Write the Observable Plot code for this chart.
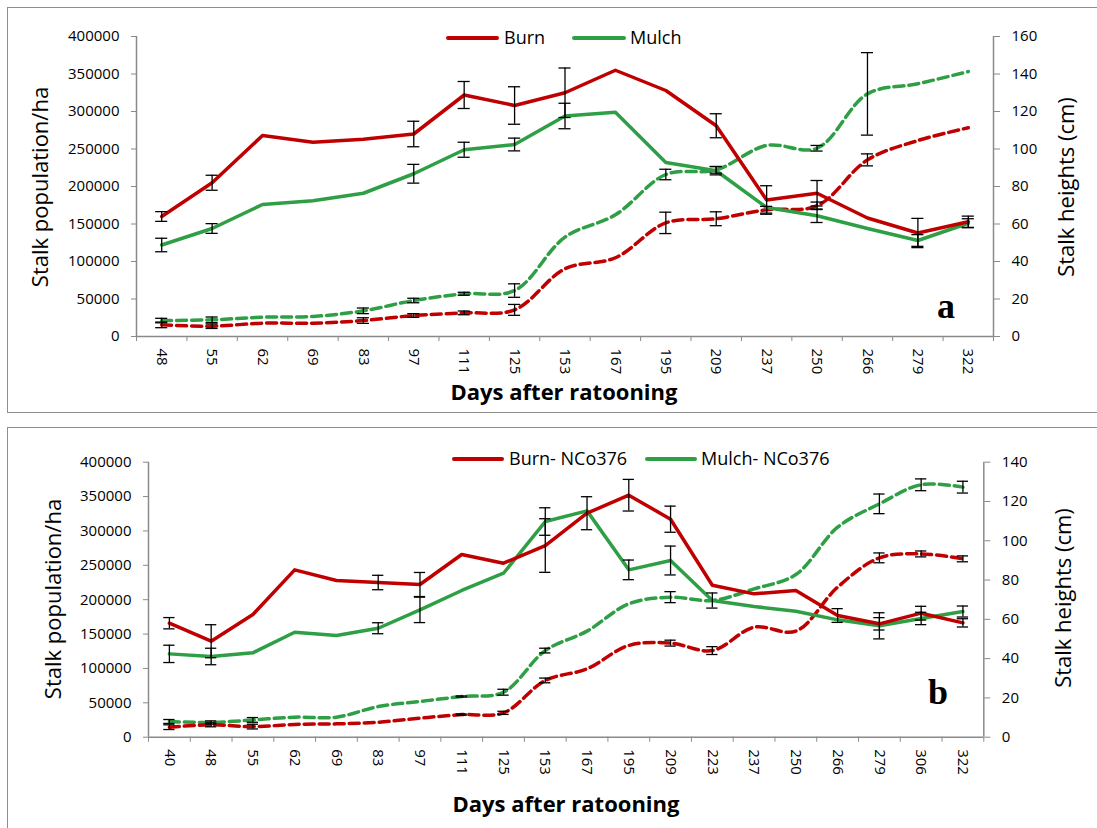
<!DOCTYPE html>
<html>
<head>
<meta charset="utf-8">
<script src="https://cdn.jsdelivr.net/npm/d3@7"></script>
<script src="https://cdn.jsdelivr.net/npm/@observablehq/plot@0.6"></script>
<style>
  body { margin: 0; background: #fff; width: 1097px; height: 828px; overflow: hidden; position: relative; font-family: "Open Sans", sans-serif; }
  .panel { position: absolute; border: 1.6px solid #8e8e8e; box-sizing: border-box; }
  .lbl { position: absolute; white-space: nowrap; color: #000; line-height: 1; }
  .rot { transform: translate(-50%, -50%) rotate(-90deg); }
  .ctr { transform: translate(-50%, -50%); }
  .key { position: absolute; height: 4px; border-radius: 2px; }
  .tag { font-family: "Liberation Serif", "Times New Roman", serif; }
  svg { position: absolute; left: 0; }
</style>
</head>
<body>
<script>
// Panel a — days after ratooning
const daysA = ["48","55","62","69","83","97","111","125","153","167","195","209","237","250","266","279","322"];
const burnPopA  = [160000,205000,268000,259000,263000,270000,322000,308000,325000,355000,328000,281000,182000,191000,158000,138000,153000];
const burnPopErrA  = [6500,10000,null,null,null,17000,18000,25000,33000,null,null,16000,19000,17000,null,19500,7500];
const mulchPopA = [122000,144000,176000,181000,191000,217000,249000,256000,294000,299000,232000,221000,172000,161000,144000,128000,151000];
const mulchPopErrA = [9000,6500,null,null,null,12500,10000,8500,17000,null,null,5500,null,9000,null,7800,6000];
const burnHtA  = [6.2,5.5,7.1,7.1,8.5,11.2,12.6,14.2,36.1,42,60.6,62.8,67.6,69.7,94.2,104.5,111.3];
const burnHtErrA  = [1.5,1.2,null,null,1.5,1,1,2.9,null,null,5.7,3.7,1.8,2,3.2,null,null];
const mulchHtA = [8.5,8.9,10.3,10.7,13.7,19.2,22.8,24.5,53,64.9,86.4,88.9,101.9,100.4,129.4,134.8,141.3];
const mulchHtErrA = [1.2,1.5,null,null,1.5,1.2,0.8,3.6,null,null,2.8,1.8,null,1.5,22,null,null];

// Panel b — cultivar NCo376
const daysB = ["40","48","55","62","69","83","97","111","125","153","167","195","209","223","237","250","266","279","306","322"];
const burnPopB  = [165800,139600,178500,243400,227900,225000,222100,265700,253100,278800,325800,352000,317100,221100,208500,213400,177000,164900,180400,166300];
const burnPopErrB  = [8200,24000,null,null,null,10500,17500,null,null,39000,24000,23000,19000,null,null,null,10000,9000,10000,6000];
const mulchPopB = [121200,117400,122700,152700,147900,158500,185200,213400,238500,313700,329200,243400,257000,198800,190100,183300,170700,162000,172700,182800];
const mulchPopErrB = [12600,12000,null,null,null,8000,18500,null,null,20000,null,14300,21000,11000,null,null,null,19000,9000,8000];
const burnHtB  = [5.1,6.3,5.4,6.5,6.8,7.6,9.7,11.5,12.4,28.9,34.8,46.7,47.9,44.1,56,54,76.4,91.3,93.3,90.8];
const burnHtErrB  = [1.2,1,1.2,null,null,null,null,0.3,0.8,1.2,null,null,1.5,2,null,null,null,2.5,1.5,1.5];
const mulchHtB = [8,7.5,8.8,10.2,10.2,15.6,18.2,20.7,22.9,44.1,54,67.9,71.3,69.6,75.5,82.8,106.9,118.8,128.5,127.3];
const mulchHtErrB = [1,0.8,1.2,null,null,null,null,0.3,1.5,1.2,null,null,2.8,null,null,null,null,5,3,3];

// Axis ticks
const popTicks = d3.range(0, 400001, 50000);
const htTicksA = d3.range(0, 161, 20);
const htTicksB = d3.range(0, 141, 20);

const RED = "#c00000";
const GREEN = "#2e9f45";
const AXIS = "#8a8a8a";

// Each category sits at index + 0.5 on a linear x scale so ticks fall between categories.
const pts = (vals, k = 1) => vals.map((v, i) => ({x: i + 0.5, y: v * k}));
const errs = (vals, e, k = 1) => vals.map((v, i) => e[i] == null ? null : {x: i + 0.5, lo: (v - e[i]) * k, hi: (v + e[i]) * k}).filter(Boolean);

function chart(o) {
  const n = o.days.length;
  const k = 400000 / o.htMax;   // right-axis units into left-axis units
  const cap = o.cap;
  const barMarks = (rows) => [
    Plot.ruleX(rows, {x: "x", y1: "lo", y2: "hi", stroke: "#000", strokeWidth: 1.3}),
    Plot.ruleY(rows, {y: "hi", x1: d => d.x - cap, x2: d => d.x + cap, stroke: "#000", strokeWidth: 1.3}),
    Plot.ruleY(rows, {y: "lo", x1: d => d.x - cap, x2: d => d.x + cap, stroke: "#000", strokeWidth: 1.3})
  ];
  const svg = Plot.plot({
    width: 1097, height: o.height,
    marginLeft: o.ml, marginRight: o.mr, marginTop: o.mt, marginBottom: o.mb,
    x: {domain: [0, n], axis: null},
    y: {domain: [0, 400000], axis: null},
    style: {background: "transparent", fontFamily: "'Open Sans', sans-serif", fontSize: "15px", color: "#000"},
    marks: [
      // axes
      Plot.axisY(popTicks, {anchor: "left", tickSize: 5, tickPadding: 12, stroke: AXIS, color: "#000", tickFormat: d => String(d), label: null}),
      Plot.axisY(o.htTicks.map(v => v * k), {anchor: "right", tickSize: 6, tickPadding: 12, stroke: AXIS, color: "#000", tickFormat: d => String(Math.round(d / k)), label: null}),
      Plot.axisX(d3.range(0, n + 1), {tickSize: 5, stroke: AXIS, tickFormat: () => "", label: null}),
      Plot.axisX(d3.range(n).map(i => i + 0.5), {tickSize: 0, tickRotate: 90, tickPadding: 12, color: "#000", tickFormat: d => o.days[Math.floor(d)], label: null}),
      Plot.ruleX([0, n], {stroke: AXIS, strokeWidth: 1.5}),
      Plot.ruleY([0], {stroke: AXIS, strokeWidth: 1.5}),
      // stalk heights (dashed, smoothed)
      Plot.line(pts(o.mulchHt, k), {x: "x", y: "y", stroke: GREEN, strokeWidth: 3.5, strokeDasharray: "10,5", curve: "catmull-rom"}),
      Plot.line(pts(o.burnHt, k), {x: "x", y: "y", stroke: RED, strokeWidth: 3.5, strokeDasharray: "10,5", curve: "catmull-rom"}),
      // stalk population (solid)
      Plot.line(pts(o.mulchPop), {x: "x", y: "y", stroke: GREEN, strokeWidth: 3.5}),
      Plot.line(pts(o.burnPop), {x: "x", y: "y", stroke: RED, strokeWidth: 3.5}),
      // error bars
      ...barMarks(errs(o.mulchHt, o.mulchHtErr, k)),
      ...barMarks(errs(o.burnHt, o.burnHtErr, k)),
      ...barMarks(errs(o.mulchPop, o.mulchPopErr)),
      ...barMarks(errs(o.burnPop, o.burnPopErr))
    ]
  });
  svg.style.top = o.top + "px";
  document.body.appendChild(svg);
}

function box(left, top, w, h) {
  const d = document.createElement("div");
  d.className = "panel";
  Object.assign(d.style, {left: left + "px", top: top + "px", width: w + "px", height: h + "px"});
  document.body.appendChild(d);
}
function label(text, x, y, cls, size, weight) {
  const d = document.createElement("div");
  d.className = "lbl " + cls;
  d.textContent = text;
  Object.assign(d.style, {left: x + "px", top: y + "px", fontSize: size + "px", fontWeight: weight || "normal"});
  document.body.appendChild(d);
}
function key(color, x1, x2, y) {
  const d = document.createElement("div");
  d.className = "key";
  Object.assign(d.style, {left: x1 + "px", top: (y - 2) + "px", width: (x2 - x1) + "px", background: color});
  document.body.appendChild(d);
}
function keyText(text, x, y) {
  const d = document.createElement("div");
  d.className = "lbl";
  d.textContent = text;
  Object.assign(d.style, {left: x + "px", top: (y - 10) + "px", fontSize: "18px"});
  document.body.appendChild(d);
}

box(7, 7, 1100, 406);
box(7, 427, 1100, 410);

chart({days: daysA, burnPop: burnPopA, burnPopErr: burnPopErrA, mulchPop: mulchPopA, mulchPopErr: mulchPopErrA,
       burnHt: burnHtA, burnHtErr: burnHtErrA, mulchHt: mulchHtA, mulchHtErr: mulchHtErrA,
       htMax: 160, htTicks: htTicksA, cap: 0.12,
       top: 0, height: 412, ml: 136, mr: 104, mt: 36, mb: 76});
chart({days: daysB, burnPop: burnPopB, burnPopErr: burnPopErrB, mulchPop: mulchPopB, mulchPopErr: mulchPopErrB,
       burnHt: burnHtB, burnHtErr: burnHtErrB, mulchHt: mulchHtB, mulchHtErr: mulchHtErrB,
       htMax: 140, htTicks: htTicksB, cap: 0.135,
       top: 420, height: 408, ml: 148, mr: 113.7, mt: 41.7, mb: 91.3});

// Titles, legends and panel tags
label("Stalk population/ha", 39, 187, "rot", 22);
label("Stalk heights (cm)", 1065, 187, "rot", 22);
label("Days after ratooning", 564, 391, "ctr", 22, "bold");
key(RED, 446, 499, 38); keyText("Burn", 504, 38);
key(GREEN, 572, 626, 38); keyText("Mulch", 630, 38);
label("a", 946, 306, "ctr tag", 36, "bold");

label("Stalk population/ha", 52, 599, "rot", 22);
label("Stalk heights (cm)", 1062, 598, "rot", 22);
label("Days after ratooning", 566, 803, "ctr", 22, "bold");
key(RED, 452, 504, 459); keyText("Burn- NCo376", 509, 459);
key(GREEN, 645, 697, 459); keyText("Mulch- NCo376", 701, 459);
label("b", 938, 692, "ctr tag", 36, "bold");
</script>
</body>
</html>
